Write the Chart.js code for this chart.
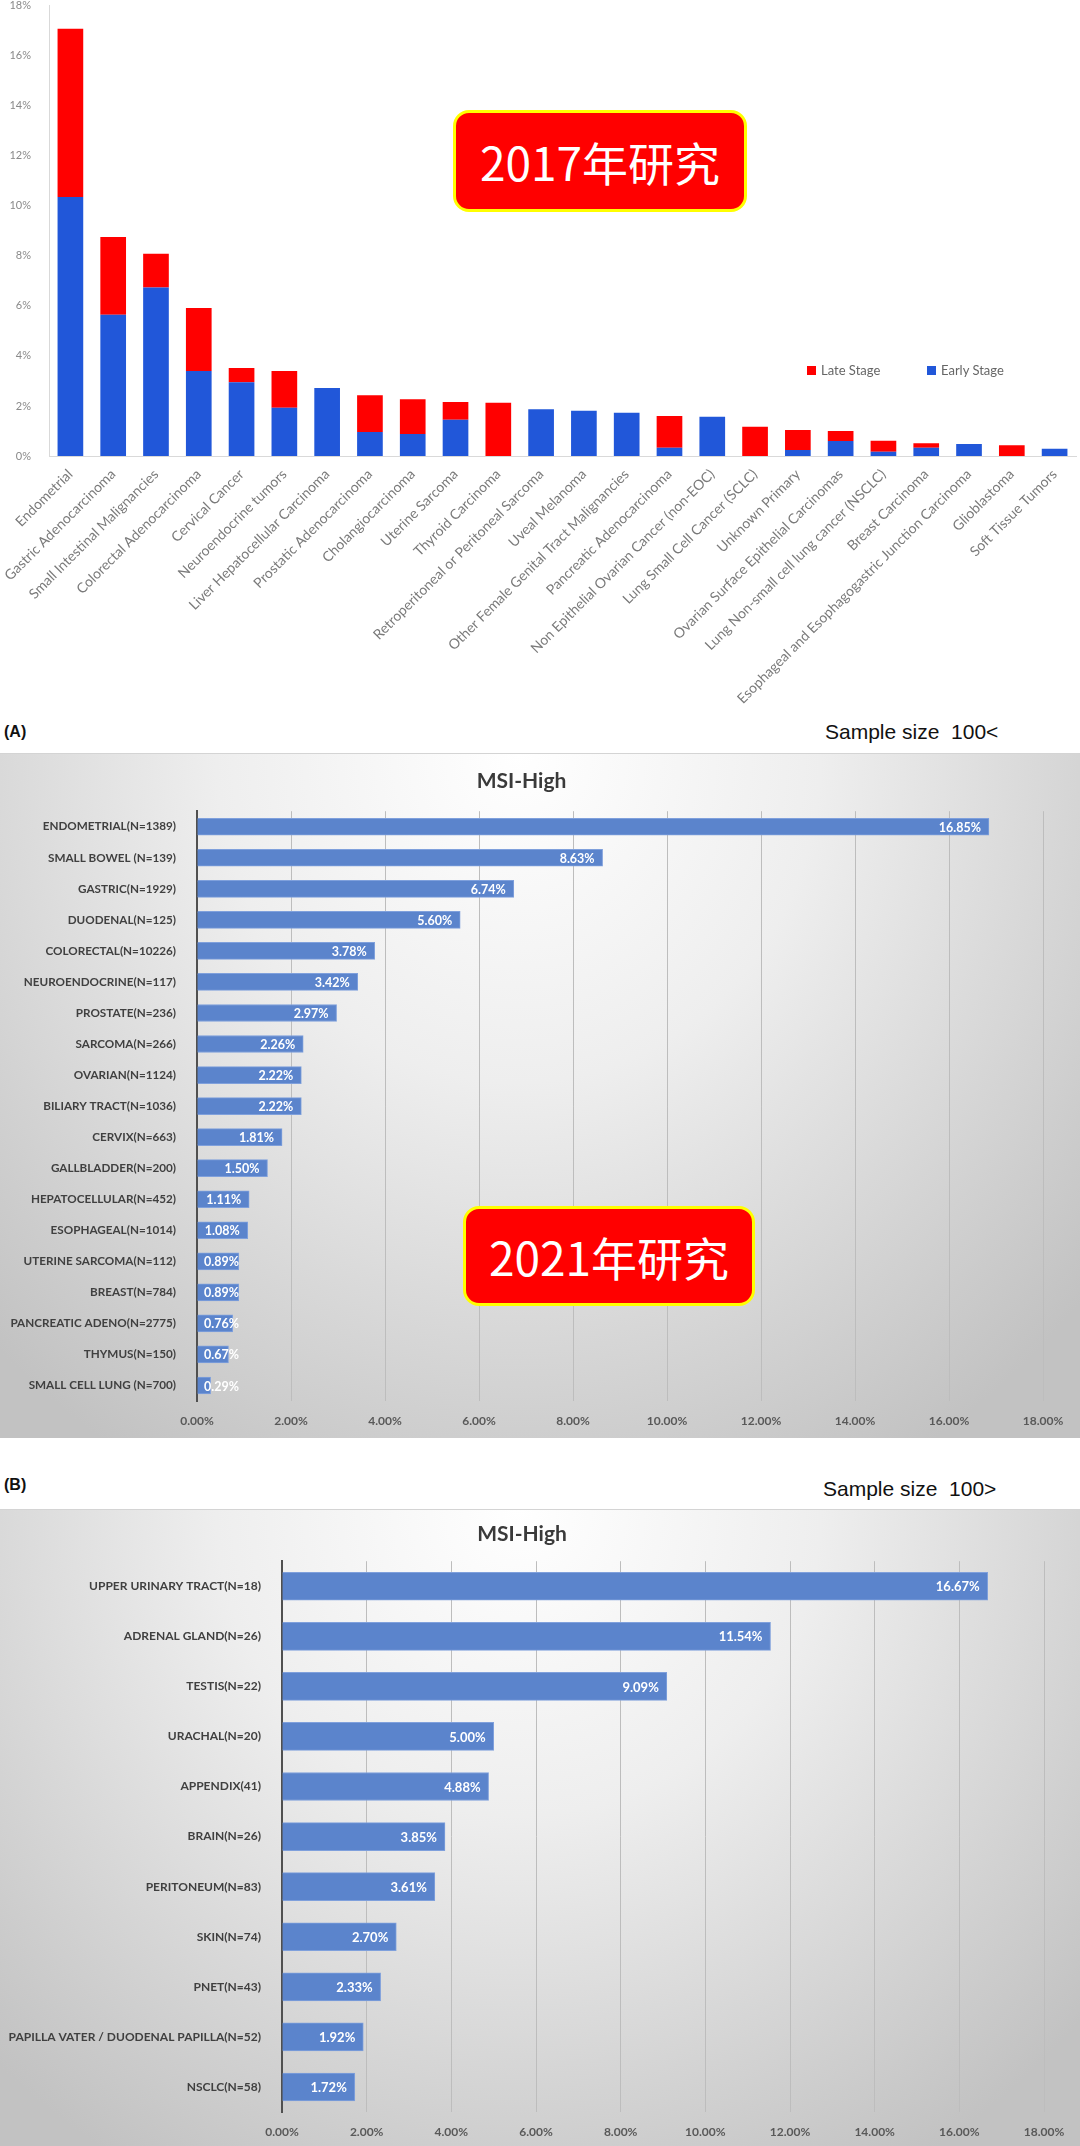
<!DOCTYPE html>
<html>
<head>
<meta charset="utf-8">
<script src="https://cdn.jsdelivr.net/npm/chart.js@4.4.1/dist/chart.umd.min.js"></script>
<style>
  body { margin: 0; background: #fff; width: 1080px; height: 2146px; position: relative; overflow: hidden; font-family: Lato, sans-serif; }
  .abs { position: absolute; }
  .badge { position: absolute; background: #ff0000; border: 3px solid #ffff00; border-radius: 16px; color: #fff;
           font-family: "Noto Sans CJK SC", sans-serif; font-size: 46px; display: flex; align-items: center; justify-content: center; box-sizing: border-box; }
  .panel { position: absolute; left: 0; width: 1080px; border-top: 1px solid #d4d4d4;
           background: radial-gradient(ellipse 70% 120% at 48% 0%, #ffffff 0%, #eeeeee 40%, #c2c2c2 100%); }
  .tag { font-family: Arial, "Liberation Sans", sans-serif; font-weight: bold; font-size: 16px; color: #111; }
  .size { font-family: Arial, "Liberation Sans", sans-serif; font-size: 21px; color: #111; }
  .leg { font-size: 13px; color: #666; display: flex; align-items: center; }
  .leg i { display: inline-block; width: 9px; height: 9px; margin-right: 5px; }
</style>
</head>
<body>

<canvas id="chart2017" class="abs" style="left:0;top:-11px" width="1080" height="731"></canvas>
<div class="abs leg" style="left:807px;top:362px"><i style="background:#ff0000"></i>Late Stage</div>
<div class="abs leg" style="left:927px;top:362px"><i style="background:#2157d9"></i>Early Stage</div>
<div class="badge" style="left:453px;top:110px;width:294px;height:102px">2017年研究</div>

<div class="abs tag" style="left:4px;top:723px">(A)</div>
<div class="abs size" style="left:825px;top:720px">Sample size&nbsp;&nbsp;100&lt;</div>
<div class="panel" style="top:753px;height:684px">
  <canvas id="chartA" width="1080" height="684"></canvas>
</div>
<div class="badge" style="left:463px;top:1206px;width:292px;height:100px">2021年研究</div>

<div class="abs tag" style="left:4px;top:1476px">(B)</div>
<div class="abs size" style="left:823px;top:1477px">Sample size&nbsp;&nbsp;100&gt;</div>
<div class="panel" style="top:1509px;height:637px">
  <canvas id="chartB" width="1080" height="637"></canvas>
</div>

<script>
Chart.defaults.font.family = 'Lato';

// 2017 study (values in %)
const tumorTypes = ['Endometrial', 'Gastric Adenocarcinoma', 'Small Intestinal Malignancies', 'Colorectal Adenocarcinoma',
  'Cervical Cancer', 'Neuroendocrine tumors', 'Liver Hepatocellular Carcinoma', 'Prostatic Adenocarcinoma',
  'Cholangiocarcinoma', 'Uterine Sarcoma', 'Thyroid Carcinoma', 'Retroperitoneal or Peritoneal Sarcoma',
  'Uveal Melanoma', 'Other Female Genital Tract Malignancies', 'Pancreatic Adenocarcinoma',
  'Non Epithelial Ovarian Cancer (non-EOC)', 'Lung Small Cell Cancer (SCLC)', 'Unknown Primary',
  'Ovarian Surface Epithelial Carcinomas', 'Lung Non-small cell lung cancer (NSCLC)', 'Breast Carcinoma',
  'Esophageal and Esophagogastric Junction Carcinoma', 'Glioblastoma', 'Soft Tissue Tumors'];
const earlyStage = [10.35, 5.64, 6.73, 3.40, 2.95, 1.93, 2.72, 0.96, 0.88, 1.45, 0, 1.87,
  1.81, 1.73, 0.33, 1.57, 0, 0.24, 0.60, 0.17, 0.33, 0.48, 0, 0.29];
const lateStage = [6.72, 3.11, 1.35, 2.51, 0.57, 1.47, 0, 1.47, 1.39, 0.71, 2.13, 0,
  0, 0, 1.27, 0, 1.17, 0.80, 0.40, 0.44, 0.18, 0, 0.43, 0];

// 2021 study, sample size > 100
const labelsA = ['ENDOMETRIAL(N=1389)', 'SMALL BOWEL (N=139)', 'GASTRIC(N=1929)', 'DUODENAL(N=125)',
  'COLORECTAL(N=10226)', 'NEUROENDOCRINE(N=117)', 'PROSTATE(N=236)', 'SARCOMA(N=266)', 'OVARIAN(N=1124)',
  'BILIARY TRACT(N=1036)', 'CERVIX(N=663)', 'GALLBLADDER(N=200)', 'HEPATOCELLULAR(N=452)',
  'ESOPHAGEAL(N=1014)', 'UTERINE SARCOMA(N=112)', 'BREAST(N=784)', 'PANCREATIC ADENO(N=2775)',
  'THYMUS(N=150)', 'SMALL CELL LUNG (N=700)'];
const valuesA = [16.85, 8.63, 6.74, 5.60, 3.78, 3.42, 2.97, 2.26, 2.22, 2.22, 1.81, 1.50, 1.11, 1.08, 0.89, 0.89, 0.76, 0.67, 0.29];

// 2021 study, sample size < 100
const labelsB = ['UPPER URINARY TRACT(N=18)', 'ADRENAL GLAND(N=26)', 'TESTIS(N=22)', 'URACHAL(N=20)',
  'APPENDIX(41)', 'BRAIN(N=26)', 'PERITONEUM(N=83)', 'SKIN(N=74)', 'PNET(N=43)',
  'PAPILLA VATER / DUODENAL PAPILLA(N=52)', 'NSCLC(N=58)'];
const valuesB = [16.67, 11.54, 9.09, 5.00, 4.88, 3.85, 3.61, 2.70, 2.33, 1.92, 1.72];

const pctTicks = [0, 2, 4, 6, 8, 10, 12, 14, 16, 18];

// 2017 stacked column chart
new Chart(document.getElementById('chart2017'), {
  type: 'bar',
  data: {
    labels: tumorTypes,
    datasets: [
      { label: 'Early Stage', data: earlyStage, backgroundColor: '#2157d9' },
      { label: 'Late Stage', data: lateStage, backgroundColor: '#ff0000' }
    ]
  },
  options: {
    responsive: false,
    animation: false,
    layout: { padding: { top: 0, right: 4, left: 0, bottom: 0 } },
    plugins: { legend: { display: false }, tooltip: { enabled: false } },
    datasets: { bar: { barPercentage: 0.6, categoryPercentage: 1 } },
    scales: {
      x: {
        stacked: true,
        grid: { display: false },
        border: { color: '#d9d9d9' },
        ticks: { autoSkip: false, maxRotation: 45, minRotation: 45, color: '#7a7a7a', font: { size: 14 }, padding: 2 },
        afterFit: s => { s.height = 264; }
      },
      y: {
        stacked: true,
        min: 0, max: 18,
        grid: { display: false },
        border: { color: '#d9d9d9' },
        ticks: { stepSize: 2, color: '#8a8a8a', font: { size: 11 }, padding: 10, callback: v => v + '%' },
        afterFit: s => { s.width = 49; }
      }
    }
  }
});

// value labels at the end of horizontal bars
const barValueLabels = {
  id: 'barValueLabels',
  afterDatasetsDraw(chart, args, opts) {
    const ctx = chart.ctx;
    const meta = chart.getDatasetMeta(0);
    const base = chart.scales.x.getPixelForValue(0);
    ctx.save();
    ctx.font = 'bold ' + opts.size + 'px Lato';
    ctx.fillStyle = '#ffffff';
    ctx.textAlign = 'right';
    ctx.textBaseline = 'middle';
    meta.data.forEach((bar, i) => {
      const txt = chart.data.datasets[0].data[i].toFixed(2) + '%';
      const w = ctx.measureText(txt).width;
      const x = Math.max(bar.x - 8, base + 7 + w);
      ctx.fillText(txt, x, bar.y + 1);
    });
    ctx.restore();
  }
};

function msiChart(id, labels, values, cfg) {
  return new Chart(document.getElementById(id), {
    type: 'bar',
    data: { labels: labels, datasets: [{ data: values, backgroundColor: '#5b84cc', borderColor: '#7fa0dc', borderWidth: 1, borderSkipped: 'left', barThickness: cfg.bar }] },
    plugins: [barValueLabels],
    options: {
      indexAxis: 'y',
      responsive: false,
      animation: false,
      layout: { padding: { top: 0, right: cfg.right, left: 0, bottom: 0 } },
      plugins: {
        legend: { display: false },
        tooltip: { enabled: false },
        barValueLabels: { size: cfg.valueSize },
        title: {
          display: true, text: 'MSI-High', color: '#3a3a3a',
          font: { size: 21, weight: 'bold', lineHeight: 1.2 },
          padding: { top: cfg.titleTop, bottom: cfg.titleBottom }
        }
      },
      scales: {
        x: {
          min: 0, max: 18,
          afterBuildTicks: s => { s.ticks = pctTicks.map(v => ({ value: v })); },
          grid: { color: '#bdbdbd', drawTicks: false },
          border: { display: false },
          ticks: { color: '#595959', font: { size: 12, weight: 'bold' }, padding: 13, callback: v => v.toFixed(2) + '%' },
          afterFit: s => { s.height = cfg.xHeight; }
        },
        y: {
          grid: { display: false },
          border: { color: '#505050', width: 2 },
          ticks: { color: '#404040', font: { size: cfg.labelSize, weight: 'bold' }, padding: 13 },
          afterFit: s => { s.width = cfg.left; }
        }
      }
    }
  });
}

msiChart('chartA', labelsA, valuesA, { bar: 17, left: 197, right: 37, xHeight: 37, titleTop: 15, titleBottom: 17, labelSize: 11.7, valueSize: 12.5 });
msiChart('chartB', labelsB, valuesB, { bar: 28, left: 282, right: 36, xHeight: 35, titleTop: 12, titleBottom: 14, labelSize: 12, valueSize: 13 });
</script>
</body>
</html>
